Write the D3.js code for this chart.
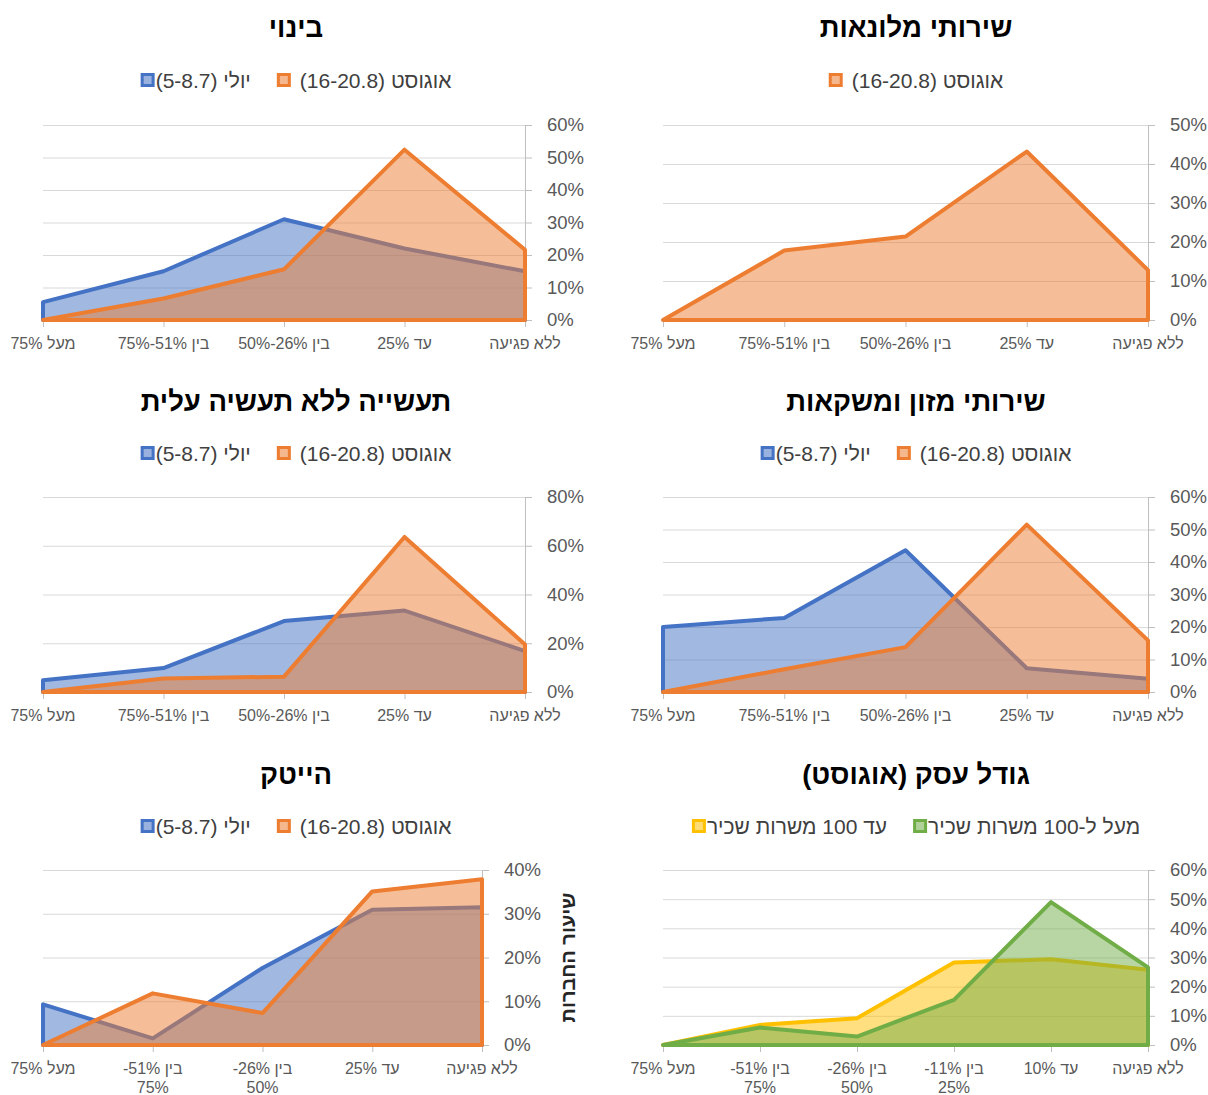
<!DOCTYPE html>
<html lang="he">
<head>
<meta charset="utf-8">
<script src="https://cdn.jsdelivr.net/npm/d3@7"></script>
<style>
  body { margin: 0; background: #fff; }
  svg { font-family: "Liberation Sans", Arial, sans-serif; }
</style>
</head>
<body>
<svg width="1208" height="1095"></svg>
<script>
// x categories (share of activity lost)
var cats5 = ['מעל 75%', 'בין 51%-75%', 'בין 26%-50%', 'עד 25%', 'ללא פגיעה'];
var cats6 = ['מעל 75%', 'בין 51%-75%', 'בין 26%-50%', 'בין 11%-25%', 'עד 10%', 'ללא פגיעה'];

// series names
var julyName = 'יולי (5-8.7)';
var augName = 'אוגוסט (16-20.8)';
var smallName = 'עד 100 משרות שכיר';
var bigName = 'מעל ל-100 משרות שכיר';

// values in percent
var binuiJuly = [5.5, 15, 31, 22, 15];
var binuiAug = [0, 6.6, 15.6, 52.4, 21.6];
var hotelAug = [0, 17.8, 21.4, 43.2, 12.8];
var industryJuly = [4.8, 9.8, 29.1, 33.4, 16.8];
var industryAug = [0, 5.5, 6.3, 63.6, 19.5];
var foodJuly = [20, 22.8, 43.6, 7.3, 4.1];
var foodAug = [0, 7, 13.8, 51.5, 15.9];
var hitechJuly = [9.3, 1.5, 17.6, 30.9, 31.5];
var hitechAug = [0, 11.8, 7.3, 35.1, 37.9];
var smallBiz = [0, 6.9, 9.2, 28.3, 29.4, 25.8];
var bigBiz = [0, 6, 2.9, 15.5, 49, 26.6];

var yTitle = 'שיעור החברות';

var blue = '#4472c4', orange = '#ed7d31', yellow = '#ffc000', green = '#70ad47';

// rows of the grid
var rows = [
  {title: 27, legend: 80, top: 125, bottom: 320},
  {title: 401, legend: 453, top: 497, bottom: 692},
  {title: 774, legend: 826, top: 870, bottom: 1045}
];

var panels = [
  {title: 'בינוי', row: 0, cx: 296, x0: 43, x1: 525, cats: cats5, max: 60, step: 10,
    series: [{name: julyName, values: binuiJuly, color: blue}, {name: augName, values: binuiAug, color: orange, pad: 8}]},
  {title: 'שירותי מלונאות', row: 0, cx: 916, x0: 663, x1: 1148, cats: cats5, max: 50, step: 10,
    series: [{name: augName, values: hotelAug, color: orange, pad: 8}]},
  {title: 'תעשייה ללא תעשיה עלית', row: 1, cx: 296, x0: 43, x1: 525, cats: cats5, max: 80, step: 20,
    series: [{name: julyName, values: industryJuly, color: blue}, {name: augName, values: industryAug, color: orange, pad: 8}]},
  {title: 'שירותי מזון ומשקאות', row: 1, cx: 916, x0: 663, x1: 1148, cats: cats5, max: 60, step: 10,
    series: [{name: julyName, values: foodJuly, color: blue}, {name: augName, values: foodAug, color: orange, pad: 8}]},
  {title: 'הייטק', row: 2, cx: 296, x0: 43, x1: 482, cats: cats5, max: 40, step: 10, wrap: true, yTitle: yTitle,
    series: [{name: julyName, values: hitechJuly, color: blue}, {name: augName, values: hitechAug, color: orange, pad: 8}]},
  {title: 'גודל עסק (אוגוסט)', row: 2, cx: 916, x0: 663, x1: 1148, cats: cats6, max: 60, step: 10, wrap: true,
    series: [{name: smallName, values: smallBiz, color: yellow}, {name: bigName, values: bigBiz, color: green}]}
];

var svg = d3.select('svg');

function drawPanel(p) {
  var r = rows[p.row];
  var g = svg.append('g');
  var x = d3.scalePoint().domain(p.cats).range([p.x0, p.x1]);
  var y = d3.scaleLinear().domain([0, p.max]).range([r.bottom, r.top]);
  var ticks = d3.range(0, p.max + 1, p.step);

  // title
  g.append('text')
    .attr('x', p.cx).attr('y', r.title)
    .attr('direction', 'rtl').attr('text-anchor', 'middle')
    .attr('dominant-baseline', 'central')
    .attr('font-size', 27.5).attr('font-weight', 'bold').attr('fill', '#000')
    .text(p.title);

  // gridlines
  g.append('g')
    .attr('transform', 'translate(' + p.x1 + ',0)')
    .call(d3.axisLeft(y).tickValues(ticks).tickSize(p.x1 - p.x0).tickFormat(''))
    .call(a => a.select('.domain').remove())
    .selectAll('line').attr('stroke', '#d9d9d9');

  // x axis
  var xa = g.append('g')
    .attr('transform', 'translate(0,' + r.bottom + ')')
    .call(d3.axisBottom(x).tickSize(7).tickSizeOuter(0).tickFormat(''));
  xa.select('.domain').attr('stroke', '#d9d9d9');
  xa.selectAll('line').attr('stroke', '#bfbfbf');

  // y axis on the right
  var ya = g.append('g')
    .attr('transform', 'translate(' + p.x1 + ',0)')
    .call(d3.axisRight(y).tickValues(ticks).tickSize(7).tickSizeOuter(0).tickPadding(15)
      .tickFormat(d => d + '%'));
  ya.select('.domain').attr('stroke', '#bfbfbf');
  ya.selectAll('line').attr('stroke', '#bfbfbf');
  ya.selectAll('text').attr('font-size', 18.5).attr('fill', '#595959')
    .attr('font-family', '"Liberation Sans", Arial, sans-serif');

  // areas
  var area = d3.area()
    .x((d, i) => x(p.cats[i]))
    .y0(y(0))
    .y1(d => y(d));
  p.series.forEach(function(s) {
    g.append('path')
      .datum(s.values)
      .attr('d', area)
      .attr('fill', s.color).attr('fill-opacity', 0.5)
      .attr('stroke', s.color).attr('stroke-width', 4)
      .attr('stroke-linejoin', 'round');
  });

  // x labels
  p.cats.forEach(function(c) {
    var lines = [c];
    var m = c.match(/^(בין \d+%-)(\d+%)$/);
    if (p.wrap && m) lines = [m[1], m[2]];
    var t = g.append('text')
      .attr('x', x(c)).attr('y', r.bottom + 23)
      .attr('direction', 'rtl').attr('text-anchor', 'middle')
      .attr('dominant-baseline', 'central')
      .attr('font-size', 16).attr('fill', '#595959');
    lines.forEach(function(l, i) {
      t.append('tspan').attr('x', x(c)).attr('dy', i ? 19 : 0).text(l);
    });
  });

  // legend, left to right in series order
  var lg = g.append('g');
  var items = p.series.map(function(s) {
    var it = lg.append('g');
    var tx = 15 + (s.pad || 0);
    it.append('rect')
      .attr('x', 1.5).attr('y', -5.5).attr('width', 11).attr('height', 11)
      .attr('fill', d3.interpolateRgb(s.color, '#fff')(0.45))
      .attr('stroke', s.color).attr('stroke-width', 3);
    var t = it.append('text')
      .attr('x', tx).attr('y', 0)
      .attr('direction', 'rtl').attr('text-anchor', 'end')
      .attr('dominant-baseline', 'central')
      .attr('font-size', 21).attr('fill', '#404040')
      .text(s.name);
    return {it: it, w: tx + t.node().getComputedTextLength()};
  });
  var gap = 26;
  var total = d3.sum(items, d => d.w) + gap * (items.length - 1);
  var pos = p.cx - total / 2;
  items.forEach(function(d) {
    d.it.attr('transform', 'translate(' + pos + ',' + r.legend + ')');
    pos += d.w + gap;
  });

  // vertical axis title
  if (p.yTitle) {
    g.append('text')
      .attr('transform', 'translate(568,' + ((r.top + r.bottom) / 2) + ') rotate(-90)')
      .attr('direction', 'rtl').attr('text-anchor', 'middle')
      .attr('dominant-baseline', 'central')
      .attr('font-size', 20).attr('font-weight', 'bold').attr('fill', '#262626')
      .text(p.yTitle);
  }
}

panels.forEach(drawPanel);
</script>
</body>
</html>
